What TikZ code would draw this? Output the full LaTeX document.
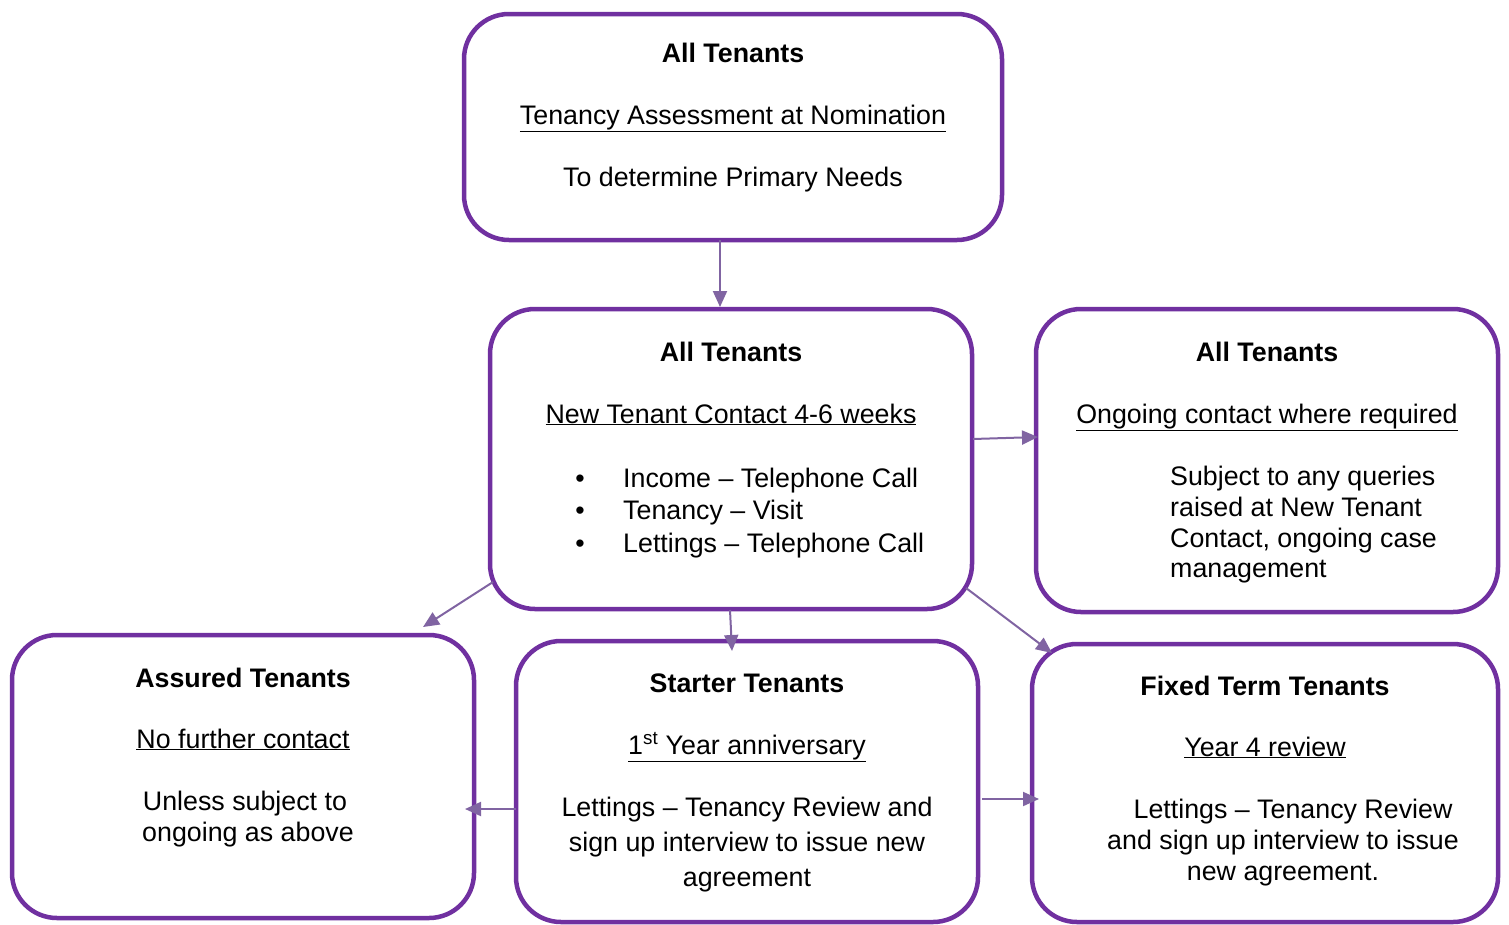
\documentclass[tikz,border=0pt]{standalone}
\usepackage{fontspec}
\setmainfont{Liberation Sans}
\usetikzlibrary{arrows.meta}
\definecolor{boxpurple}{HTML}{7030A0}
\definecolor{arrowpurple}{HTML}{8064A2}
\tikzset{
  box/.style={draw=boxpurple, line width=4.5pt, rounded corners=45pt, anchor=north west, inner sep=0pt, outer sep=0pt, fill=white},
  txt/.style={inner sep=0pt, font=\fontsize{26.8}{31}\selectfont, anchor=base},
  txtl/.style={txt, anchor=base west},
  conn/.style={draw=arrowpurple, line width=2pt, -{Triangle[length=16pt,width=14pt]}},
}
\begin{document}
\begin{tikzpicture}[x=1pt,y=1pt]
\useasboundingbox (0,0) rectangle (1509,-924);
% boxes
\node[box, minimum width=538pt, minimum height=226pt] (b1) at (464,-14) {};
\node[box, minimum width=482pt, minimum height=300pt] (b2) at (490,-309) {};
\node[box, minimum width=462pt, minimum height=303pt] (b3) at (1036,-309) {};
\node[box, minimum width=462pt, minimum height=283pt] (b4) at (12,-635) {};
\node[box, minimum width=462pt, minimum height=281pt] (b5) at (516,-641) {};
\node[box, minimum width=466pt, minimum height=278pt] (b6) at (1032,-644) {};
% box 1 text
\node[txt] (t1a) at (733,-62) {\textbf{All Tenants}};
\node[txt] (t1b) at (733,-124) {\underline{Tenancy Assessment at Nomination}};
\node[txt] (t1c) at (733,-186) {To determine Primary Needs};
% box 2 text
\node[txt] (t2a) at (731,-361) {\textbf{All Tenants}};
\node[txt] (t2b) at (731,-423) {\underline{New Tenant Contact 4-6 weeks}};
\node[txt] (t2c) at (580,-487) {\textbullet};
\node[txt] (t2d) at (580,-519) {\textbullet};
\node[txt] (t2e) at (580,-552) {\textbullet};
\node[txtl] (t2f) at (623,-487) {Income – Telephone Call};
\node[txtl] (t2g) at (623,-519) {Tenancy – Visit};
\node[txtl] (t2h) at (623,-552) {Lettings – Telephone Call};
% box 3 text
\node[txt] (t3a) at (1267,-361) {\textbf{All Tenants}};
\node[txt] (t3b) at (1267,-423) {\underline{Ongoing contact where required}};
\node[txtl] (t3c) at (1170,-485) {Subject to any queries};
\node[txtl] (t3d) at (1170,-516) {raised at New Tenant};
\node[txtl] (t3e) at (1170,-547) {Contact, ongoing case};
\node[txtl] (t3f) at (1170,-577) {management};
% box 4 text
\node[txt] (t4a) at (243,-687) {\textbf{Assured Tenants}};
\node[txt] (t4b) at (243,-748) {\underline{No further contact}};
\node[txt] (t4c) at (245,-810) {Unless subject to};
\node[txt] (t4d) at (248,-841) {ongoing as above};
% box 5 text
\node[txt] (t5a) at (747,-692) {\textbf{Starter Tenants}};
\node[txt] (t5b) at (747,-754) {\underline{1\textsuperscript{st} Year anniversary}};
\node[txt] (t5c) at (747,-816) {Lettings – Tenancy Review and};
\node[txt] (t5d) at (747,-851) {sign up interview to issue new};
\node[txt] (t5e) at (747,-886) {agreement};
% box 6 text
\node[txt] (t6a) at (1265,-695) {\textbf{Fixed Term Tenants}};
\node[txt] (t6b) at (1265,-756) {\underline{Year 4 review}};
\node[txt] (t6c) at (1293,-818) {Lettings – Tenancy Review};
\node[txt] (t6d) at (1283,-849) {and sign up interview to issue};
\node[txt] (t6e) at (1283,-880) {new agreement.};
% connectors
\coordinate (a1s) at (720,-240);
\coordinate (a1e) at (720,-307);
\draw[conn] (a1s) -- (a1e);
\coordinate (a2s) at (973,-439);
\coordinate (a2e) at (1038,-437);
\draw[conn] (a2s) -- (a2e);
\coordinate (a3s) at (493,-582);
\coordinate (a3e) at (423,-627);
\draw[conn] (a3s) -- (a3e);
\coordinate (a4s) at (730,-610);
\coordinate (a4e) at (732,-651);
\draw[conn] (a4s) -- (a4e);
\coordinate (a5s) at (966,-588);
\coordinate (a5e) at (1052,-653);
\draw[conn] (a5s) -- (a5e);
\coordinate (a6s) at (516,-809);
\coordinate (a6e) at (465,-809);
\draw[conn] (a6s) -- (a6e);
\coordinate (a7s) at (982,-799);
\coordinate (a7e) at (1039,-799);
\draw[conn] (a7s) -- (a7e);
\end{tikzpicture}
\end{document}
